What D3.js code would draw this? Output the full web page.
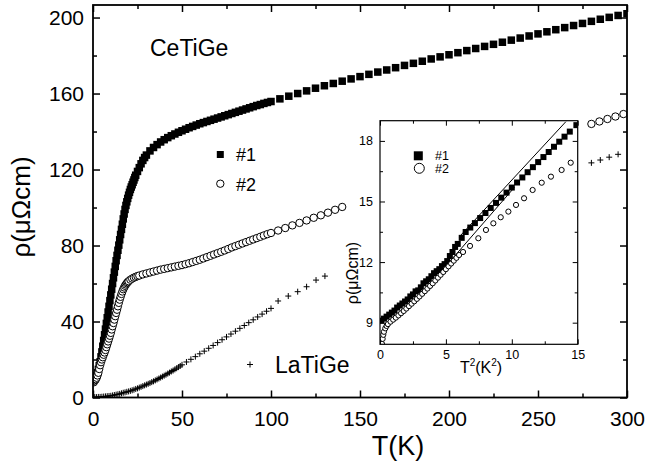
<!DOCTYPE html>
<html>
<head>
<meta charset="utf-8">
<script src="https://cdn.jsdelivr.net/npm/d3@7"></script>
<style>
body { margin: 0; background: #fff; }
svg { display: block; font-family: "Liberation Sans", Arial, sans-serif; }
</style>
</head>
<body>
<svg id="chart"></svg>
<script>
const WIDTH = 647;
const HEIGHT = 470;

const LEFT = 93;
const RIGHT = 627;
const TOP = 5;
const BOTTOM = 397.5;

// inset box
const IN_LEFT = 380;
const IN_RIGHT = 577.7;
const IN_TOP = 120.7;
const IN_BOTTOM = 344.3;

// ---- main panel: sample #1 (filled squares)
const s1T = [0.5, 1, 1.5, 2, 2.5, 3, 3.5,
  4, 4.5, 5, 5.5, 6, 6.5, 7, 7.5, 8, 8.5, 9, 9.5, 10, 10.5, 11, 11.5, 12, 12.5, 13, 13.5,
  14, 14.5, 15, 15.5, 16, 16.5, 17, 17.5, 18, 18.5, 19, 19.5, 20, 20.5, 21, 21.5, 22, 22.5,
  23, 23.5, 24, 25, 26, 27, 28, 29, 30,
  32, 34, 36, 38, 40, 42, 44, 46, 48, 50, 52, 54, 56, 58, 60, 62, 64, 66, 68, 70,
  72, 74, 76, 78, 80, 82, 84, 86, 88, 90, 92, 94, 96, 98, 100,
  105, 110, 115, 120, 125, 130, 135, 140, 145, 150, 155, 160, 165, 170, 175, 180, 185,
  190, 195, 200, 205, 210, 215, 220, 225, 230, 235, 240, 245, 250, 255, 260, 265, 270,
  275, 280, 285, 290, 295, 300];
const s1Rho = [9.2, 9.6, 10.5, 11.5, 13.0, 14.8, 16.7,
  18.8, 21.4, 24, 27, 30, 33, 36, 39, 42, 45, 48, 51, 54, 57, 60, 63, 66, 69, 72, 74.8,
  77.5, 80.2, 83, 85.8, 88.5, 91.2, 94, 96.6, 99, 101.1, 103, 104.8, 106.5, 108, 109.5, 110.8, 112, 113.3,
  114.5, 115.8, 117, 119, 121, 123, 124.8, 126.3, 127.6,
  129.8, 131.6, 133.1, 134.5, 135.7, 136.8, 137.8, 138.7, 139.6, 140.4, 141.2, 142, 142.7, 143.4, 144.1, 144.7, 145.3, 145.9, 146.5, 147.1,
  147.7, 148.3, 148.9, 149.5, 150.1, 150.7, 151.3, 151.9, 152.5, 153.1, 153.7, 154.2, 154.8, 155.3, 155.8,
  157.2, 158.6, 160.0, 161.4, 162.8, 164.1, 165.3, 166.5, 167.7, 168.9, 170.1, 171.3, 172.4, 173.6, 174.8, 175.9, 177.0,
  178.2, 179.3, 180.4, 181.5, 182.6, 183.7, 184.8, 185.9, 187.0, 188.1, 189.2, 190.3, 191.4, 192.5, 193.6, 194.7, 195.8,
  196.9, 198.0, 199.1, 200.1, 201.1, 202.0];

// ---- main panel: sample #2 (open circles)
const s2T = [0.4, 0.7, 1, 1.5, 2, 2.5, 3, 3.5,
  4, 4.5, 5, 5.5, 6, 6.5, 7, 7.5, 8, 8.5, 9, 9.5, 10, 10.5, 11, 11.5, 12, 12.5, 13, 13.5,
  14, 14.5, 15, 15.5, 16, 16.5, 17, 17.5, 18, 18.5, 19, 19.5, 20, 21, 22, 23, 24, 25, 26,
  28, 30, 32, 34, 36, 38, 40, 42, 44, 46, 48, 50, 52, 54, 56, 58, 60, 62, 64, 66, 68, 70,
  72, 74, 76, 78, 80, 82, 84, 86, 88, 90, 92, 94, 96, 98, 100,
  104, 108, 112, 116, 120, 124, 128, 132, 136, 140,
  280, 284.5, 289, 293.5, 298];
const s2Rho = [8.0, 8.9, 9.1, 9.6, 10.4, 11.6, 13.0, 15.0,
  17.0, 18.6, 20, 21.2, 22.5, 23.7, 25, 26.5, 28, 29.5, 31, 32.5, 34, 35.8, 37.5, 39.2, 41, 42.8, 44.5, 46.2,
  48, 49.8, 51.5, 53, 54.5, 55.8, 57, 57.9, 58.8, 59.5, 60.2, 60.7, 61.2, 62, 62.6, 63.1, 63.5, 63.9, 64.2,
  64.8, 65.3, 65.8, 66.3, 66.8, 67.3, 67.7, 68.1, 68.5, 68.9, 69.3, 69.7, 70.2, 70.7, 71.3, 71.9, 72.5, 73.2, 73.9, 74.6, 75.3, 76,
  76.7, 77.4, 78.2, 79, 79.7, 80.4, 81.1, 81.8, 82.5, 83.2, 83.9, 84.6, 85.3, 86,
  86.6, 87.9, 89.2, 90.6, 91.9, 93.2, 94.6, 95.9, 97.3, 98.8, 100.3,
  144.0, 145.3, 146.6, 147.9, 149.2];

// ---- main panel: LaTiGe (crosses)
const laT = [1, 2, 3, 4, 5, 6, 7, 8, 9, 10, 11, 12, 13, 14, 15, 16, 17, 18, 19, 20,
  21, 22, 23, 24, 25, 26, 27, 28, 29, 30, 31, 32, 33, 34, 35, 36, 37, 38, 39, 40,
  41, 42, 43, 44, 45, 46, 47, 48, 49, 50,
  52.5, 55, 57.5, 60, 62.5, 65, 67.5, 70, 72.5, 75, 77.5, 80, 82.5, 85, 87.5, 90, 92.5, 95, 97.5, 100,
  104, 109.7, 115, 120, 125.3, 130.3,
  280, 285, 290, 295];
const laRho = [0.2, 0.2, 0.3, 0.3, 0.4, 0.5, 0.6, 0.7, 0.8, 0.9, 1.1, 1.3, 1.5, 1.7, 1.9, 2.2, 2.5, 2.7, 3.0, 3.2,
  3.5, 3.8, 4.1, 4.5, 4.8, 5.2, 5.6, 6.0, 6.4, 6.8, 7.2, 7.6, 8.1, 8.5, 9.0, 9.5, 10.0, 10.5, 11.0, 11.5,
  12.0, 12.6, 13.1, 13.7, 14.2, 14.8, 15.4, 16.0, 16.6, 17.2,
  18.7, 20.1, 21.5, 23.0, 24.4, 25.9, 27.4, 28.9, 30.4, 31.9, 33.4, 34.9, 36.4, 37.9, 39.4, 40.9, 42.4, 43.9, 45.4, 46.9,
  50.8, 53.4, 55.7, 58.3, 61.8, 63.9,
  123.5, 125, 126.5, 128];

// ---- inset: rho vs T^2
const in1T2 = [0.1, 0.3, 0.5, 0.7, 0.9, 1.1, 1.3, 1.5, 1.7, 1.9, 2.1, 2.3, 2.5, 2.7, 2.9, 3.1, 3.3, 3.5,
  3.7, 3.9, 4.1, 4.3, 4.5, 4.7, 4.9, 5.1, 5.3, 5.5, 5.7, 5.9,
  6.2, 6.5, 6.85, 7.2, 7.6, 8.0, 8.4, 8.8, 9.2, 9.6, 10.0, 10.4, 10.8, 11.2, 11.6, 12.0,
  12.4, 12.8, 13.2, 13.6, 14.0, 14.4, 14.9];
const in1Rho = [9.1, 9.2, 9.3, 9.4, 9.5, 9.6, 9.75, 9.85, 9.95, 10.05, 10.15, 10.3, 10.4, 10.55, 10.6, 10.75, 10.95, 11.05,
  11.15, 11.3, 11.45, 11.55, 11.65, 11.8, 11.9, 12.05, 12.3, 12.5, 12.75, 12.9,
  13.2, 13.49, 13.71, 13.93, 14.18, 14.43, 14.68, 14.93, 15.19, 15.44, 15.69, 15.94, 16.19, 16.45, 16.7, 16.95,
  17.2, 17.45, 17.71, 17.96, 18.21, 18.46, 18.78];

const in2T2 = [0.15, 0.2, 0.25, 0.3, 0.4, 0.5, 0.6, 0.8, 1.0, 1.2, 1.4, 1.6, 1.8, 2.0, 2.2, 2.4, 2.6, 2.8,
  3.0, 3.2, 3.4, 3.6, 3.8, 4.0, 4.2, 4.4, 4.6, 4.8, 5.0, 5.2, 5.4, 5.6, 5.8, 6.0,
  6.3, 6.83, 7.46, 8.04, 8.6, 9.16, 9.74, 10.32, 10.93, 11.58, 12.27, 12.97, 13.78, 14.47];
const in2Rho = [7.95, 8.2, 8.4, 8.55, 8.72, 8.84, 8.93, 9.05, 9.15, 9.25, 9.36, 9.47, 9.58, 9.7, 9.82, 9.94, 10.06, 10.18,
  10.3, 10.43, 10.56, 10.69, 10.82, 10.95, 11.09, 11.23, 11.37, 11.51, 11.65, 11.79, 11.93, 12.07, 12.21, 12.35,
  12.5, 12.8, 13.18, 13.59, 13.92, 14.22, 14.5, 14.83, 15.16, 15.57, 15.93, 16.23, 16.56, 16.92];

// straight T^2 fits drawn in the inset
const fit1T2 = [6.0, 14.1];
const fit1Rho = [13.24, 18.95];
const fit2T2 = [2.5, 10.2];
const fit2Rho = [9.93, 15.7];

const xTicks = [0, 50, 100, 150, 200, 250, 300];
const xMinor = [25, 75, 125, 175, 225, 275];
const yTicks = [0, 40, 80, 120, 160, 200];
const yMinor = [20, 60, 100, 140, 180];
const inXTicks = [0, 5, 10, 15];
const inXMinor = [2.5, 7.5, 12.5];
const inYTicks = [9, 12, 15, 18];
const inYMinor = [10.5, 13.5, 16.5];

const zip = (a, b) => a.map((v, i) => [v, b[i]]);

const svg = d3.select('#chart').attr('width', WIDTH).attr('height', HEIGHT);

const xScale = d3.scaleLinear().domain([0, 300]).range([LEFT, RIGHT]);
const yScale = d3.scaleLinear().domain([0, 206.6]).range([BOTTOM, TOP]);
const xIn = d3.scaleLinear().domain([0, 15]).range([IN_LEFT, IN_RIGHT]);
const yIn = d3.scaleLinear().domain([7.93, 19.0]).range([IN_BOTTOM, IN_TOP]);

svg.append('defs').append('clipPath').attr('id', 'clipMain')
    .append('rect').attr('x', LEFT).attr('y', TOP).attr('width', RIGHT - LEFT).attr('height', BOTTOM - TOP);
svg.select('defs').append('clipPath').attr('id', 'clipIn')
    .append('rect').attr('x', IN_LEFT).attr('y', IN_TOP).attr('width', IN_RIGHT - IN_LEFT).attr('height', IN_BOTTOM - IN_TOP);

// frame with inward ticks on all four sides
function drawFrame(x, y, o) {
    const g = svg.append('g');
    const [x0, x1] = x.range();
    const [y0, y1] = y.range();
    const sides = [
        [d3.axisBottom(x), `translate(0,${y0})`, o.xTicks, o.xMinor, true],
        [d3.axisTop(x), `translate(0,${y1})`, o.xTicks, o.xMinor, false],
        [d3.axisLeft(y), `translate(${x0},0)`, o.yTicks, o.yMinor, true],
        [d3.axisRight(y), `translate(${x1},0)`, o.yTicks, o.yMinor, false]
    ];
    sides.forEach(([ax, tr, major, minor, labelled], i) => {
        const isX = i < 2;
        const mj = g.append('g').attr('transform', tr)
            .call(ax.tickValues(major).tickSize(-o.major).tickSizeOuter(0)
                .tickPadding(isX ? o.xPad : o.yPad)
                .tickFormat(labelled ? d3.format('d') : ''));
        mj.select('.domain').remove();
        mj.selectAll('.tick line').attr('stroke-width', o.tickWidth);
        mj.selectAll('.tick text').attr('font-size', o.font).attr('fill', '#000');
        const mn = g.append('g').attr('transform', tr)
            .call(ax.tickValues(minor).tickSize(-o.minor).tickFormat(''));
        mn.select('.domain').remove();
        mn.selectAll('.tick line').attr('stroke-width', o.tickWidth);
    });
    g.append('rect')
        .attr('x', x0).attr('y', y1)
        .attr('width', x1 - x0).attr('height', y0 - y1)
        .attr('fill', 'none').attr('stroke', '#000').attr('stroke-width', o.frameWidth);
    return g;
}

function squares(g, data, x, y, size) {
    g.selectAll(null).data(data).join('rect')
        .attr('x', d => x(d[0]) - size / 2)
        .attr('y', d => y(d[1]) - size / 2)
        .attr('width', size).attr('height', size)
        .attr('fill', '#000');
}

function circles(g, data, x, y, r) {
    g.selectAll(null).data(data).join('circle')
        .attr('cx', d => x(d[0]))
        .attr('cy', d => y(d[1]))
        .attr('r', r)
        .attr('fill', '#fff').attr('stroke', '#000').attr('stroke-width', 1);
}

function crosses(g, data, x, y, h) {
    g.selectAll(null).data(data).join('path')
        .attr('d', d => `M${x(d[0]) - h},${y(d[1])}h${2 * h}M${x(d[0])},${y(d[1]) - h}v${2 * h}`)
        .attr('stroke', '#000').attr('stroke-width', 1).attr('fill', 'none');
}

// ---- main data
const main = svg.append('g').attr('clip-path', 'url(#clipMain)');
squares(main, zip(s1T, s1Rho), xScale, yScale, 7.5);
circles(main, zip(s2T, s2Rho), xScale, yScale, 3.7);
crosses(main, zip(laT, laRho), xScale, yScale, 3);

drawFrame(xScale, yScale, {
    xTicks, xMinor, yTicks, yMinor,
    major: 7, minor: 4, xPad: 14, yPad: 9, font: 21, tickWidth: 1.5, frameWidth: 1.8
});

// axis titles
svg.append('text')
    .attr('x', 398).attr('y', 455)
    .attr('text-anchor', 'middle').attr('font-size', 27)
    .text('T(K)');
svg.append('text')
    .attr('transform', 'translate(30,207) rotate(-90)')
    .attr('text-anchor', 'middle').attr('font-size', 26)
    .text('ρ(μΩcm)');

// annotations and legend
svg.append('text').attr('x', 150).attr('y', 56).attr('font-size', 23).text('CeTiGe');
svg.append('text').attr('x', 275).attr('y', 373).attr('font-size', 23).text('LaTiGe');
crosses(svg.append('g'), [[0, 0]], () => 250, () => 364.5, 3);

squares(svg.append('g'), [[0, 0]], () => 220.3, () => 154.5, 7);
svg.append('text').attr('x', 236).attr('y', 160.5).attr('font-size', 18).text('#1');
circles(svg.append('g'), [[0, 0]], () => 220.3, () => 183.7, 3.7);
svg.append('text').attr('x', 236).attr('y', 191).attr('font-size', 18).text('#2');

// ---- inset
svg.append('rect')
    .attr('x', IN_LEFT).attr('y', IN_TOP)
    .attr('width', IN_RIGHT - IN_LEFT).attr('height', IN_BOTTOM - IN_TOP)
    .attr('fill', '#fff');

const inset = svg.append('g').attr('clip-path', 'url(#clipIn)');
const line = d3.line().x(d => xIn(d[0])).y(d => yIn(d[1]));
inset.append('path').datum(zip(fit1T2, fit1Rho)).attr('d', line)
    .attr('fill', 'none').attr('stroke', '#000').attr('stroke-width', 1);
inset.append('path').datum(zip(fit2T2, fit2Rho)).attr('d', line)
    .attr('fill', 'none').attr('stroke', '#000').attr('stroke-width', 1);
squares(inset, zip(in1T2, in1Rho), xIn, yIn, 6);
circles(inset, zip(in2T2, in2Rho), xIn, yIn, 2.6);

drawFrame(xIn, yIn, {
    xTicks: inXTicks, xMinor: inXMinor, yTicks: inYTicks, yMinor: inYMinor,
    major: 5, minor: 3, xPad: 6, yPad: 7, font: 12.5, tickWidth: 1, frameWidth: 1.2
});

const xt = svg.append('text')
    .attr('x', 481).attr('y', 373)
    .attr('text-anchor', 'middle').attr('font-size', 16);
xt.append('tspan').text('T');
xt.append('tspan').attr('font-size', 10).attr('dy', -7).text('2');
xt.append('tspan').attr('dy', 7).text('(K');
xt.append('tspan').attr('font-size', 10).attr('dy', -7).text('2');
xt.append('tspan').attr('dy', 7).text(')');

svg.append('text')
    .attr('transform', 'translate(358,273) rotate(-90)')
    .attr('text-anchor', 'middle').attr('font-size', 16)
    .text('ρ(μΩcm)');

squares(svg.append('g'), [[0, 0]], () => 418.3, () => 155.8, 9);
svg.append('text').attr('x', 435).attr('y', 160).attr('font-size', 12.5).text('#1');
circles(svg.append('g'), [[0, 0]], () => 419.3, () => 168.3, 5);
svg.append('text').attr('x', 435).attr('y', 173).attr('font-size', 12.5).text('#2');
</script>
</body>
</html>
